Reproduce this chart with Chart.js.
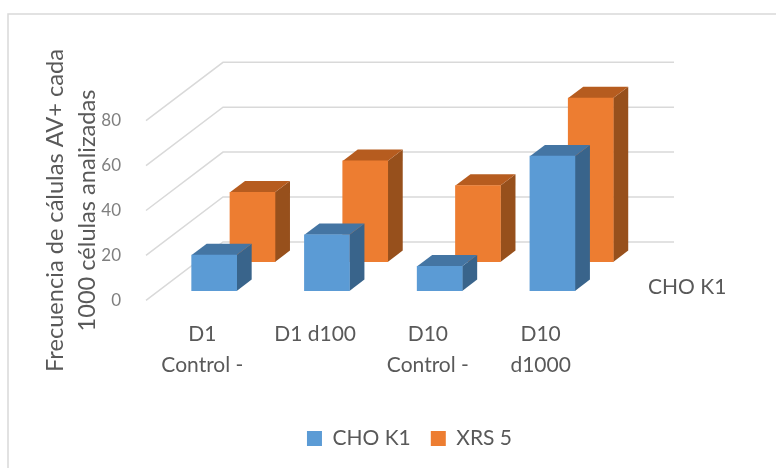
<!DOCTYPE html>
<html><head><meta charset="utf-8">
<style>html,body{margin:0;padding:0;background:#fff}canvas{display:block}</style>
<script src="https://cdn.jsdelivr.net/npm/chart.js@4"></script>
</head><body><canvas id="c" width="776" height="468"></canvas>
<script>
const categories = [['D1','Control -'],'D1 d100',['D10','Control -'],['D10','d1000']];
const choK1 = [16,25,11,60];
const xrs5 = [31,45,34,73];
const seriesNames = ['CHO K1','XRS 5'];
const depthLabel = 'CHO K1';
const yTitle = ['Frecuencia de cálulas AV+ cada','1000 células analizadas'];
const yTicks = [0,20,40,60,80];

const WALL = {dx:77, dy:-58.4};
const BOX = {dx:15, dy:-11.3};
const SHIFT = [{dx:11.8,dy:-9.4},{dx:50.1,dy:-38.4}];
const SHADE = [{top:'#4475a3',side:'#39648b'},{top:'#b65c1f',side:'#97501c'}];
const FONT = 'Lato';

const scene = {
  id:'scene',
  afterLayout(chart){ chart.legend.left += 111; chart.legend.right += 111; },
  beforeDraw(chart){
    const c = chart.ctx; c.save();
    c.strokeStyle='#d9d9d9'; c.lineWidth=1.5;
    c.beginPath(); c.moveTo(8,468); c.lineTo(8,14); c.lineTo(776,14); c.stroke();
    c.restore();
  },
  beforeDatasetsDraw(chart){
    const c = chart.ctx, a = chart.chartArea, y = chart.scales.y; c.save();
    c.strokeStyle='#d9d9d9'; c.lineWidth=1.5;
    yTicks.forEach(v=>{
      const p = y.getPixelForValue(v);
      c.beginPath(); c.moveTo(a.left,p); c.lineTo(a.left+WALL.dx,p+WALL.dy); c.lineTo(a.right+WALL.dx,p+WALL.dy); c.stroke();
    });
    c.restore();
    c.save(); c.fillStyle='#595959'; c.font='21px '+FONT;
    c.textAlign='left'; c.textBaseline='middle'; c.fillText(depthLabel,648,287); c.restore();
  },
  beforeDatasetDraw(chart,args){
    const c = chart.ctx, s = SHIFT[args.index], col = SHADE[args.index];
    c.save(); c.translate(s.dx,s.dy);
    args.meta.data.forEach(b=>{
      const l=b.x-b.width/2, r=b.x+b.width/2, t=b.y, bot=b.base;
      c.fillStyle=col.side; c.beginPath();
      c.moveTo(r,t); c.lineTo(r+BOX.dx,t+BOX.dy); c.lineTo(r+BOX.dx,bot+BOX.dy); c.lineTo(r,bot); c.closePath(); c.fill();
      c.fillStyle=col.top; c.beginPath();
      c.moveTo(l,t); c.lineTo(l+BOX.dx,t+BOX.dy); c.lineTo(r+BOX.dx,t+BOX.dy); c.lineTo(r,t); c.closePath(); c.fill();
    });
  },
  afterDatasetDraw(chart){ chart.ctx.restore(); }
};

new Chart(document.getElementById('c'),{
  type:'bar',
  data:{labels:categories,datasets:[
    {label:seriesNames[0],data:choK1,backgroundColor:'#5b9bd5'},
    {label:seriesNames[1],data:xrs5,backgroundColor:'#ed7d31'}
  ]},
  options:{
    responsive:false,animation:false,
    datasets:{bar:{grouped:false,barThickness:45}},
    layout:{padding:{top:120.7,right:179,bottom:9,left:0}},
    plugins:{
      tooltip:{enabled:false},
      legend:{position:'bottom',labels:{boxWidth:15,boxHeight:15,padding:20,color:'#595959',
        font:{family:FONT,size:21}}}
    },
    scales:{
      x:{grid:{display:false},border:{display:false},
        afterFit(s){s.height=107.7;},
        ticks:{padding:10,color:'#595959',maxRotation:0,autoSkip:false,
          font:{family:FONT,size:21,lineHeight:1.48}}},
      y:{min:0,max:80,grid:{display:false},border:{display:false},
        afterFit(s){s.width=146;},
        afterBuildTicks(s){s.ticks=yTicks.map(v=>({value:v}));},
        title:{display:true,text:yTitle,color:'#595959',padding:{top:39,bottom:0},
          font:{family:FONT,size:23.6,lineHeight:1.38}},
        ticks:{padding:17,color:'#7f7f7f',font:{family:FONT,size:17}}}
    }
  },
  plugins:[scene]
});
</script></body></html>
